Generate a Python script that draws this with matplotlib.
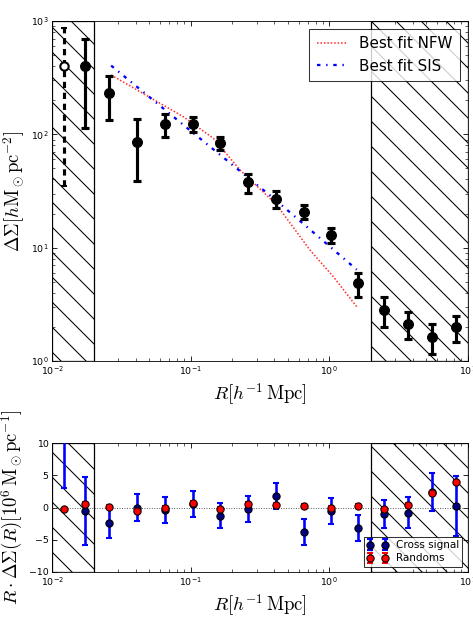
import numpy as np
import matplotlib
matplotlib.use("Agg")
import matplotlib.pyplot as plt

plt.rcParams["mathtext.fontset"] = "cm"
plt.rcParams["font.family"] = "DejaVu Sans"

# ── data ───────────────────────────────────────────────────────────────────────
R_BIN = [0.0172, 0.0258, 0.0409, 0.0650, 0.1030, 0.163, 0.26, 0.415,
         0.655, 1.03, 1.62, 2.49, 3.72, 5.55, 8.3]
DS = [400, 230, 86, 124, 123, 83, 38, 27, 20.7, 12.9, 4.85, 2.82, 2.12, 1.64, 2.0]
DS_HI = [689, 330, 136, 152, 141, 95, 45, 31.8, 23.8, 15.0, 6.0, 3.69, 2.72, 2.12, 2.5]
DS_LO = [114, 134, 39, 94, 105, 72, 30.2, 22.2, 17.8, 11.1, 3.65, 2.0, 1.55, 1.15, 1.48]

R_OPEN = [0.0122]
DS_OPEN = [403]
DS_OPEN_HI = [867]
DS_OPEN_LO = [35]

R_NFW = [0.0266, 0.0883, 0.146, 0.227, 0.418, 0.727, 1.07, 1.58]
DS_NFW = [334, 143, 92, 48.4, 23.8, 9.5, 5.55, 3.01]

R_SIS = [0.0266, 0.1, 0.4, 1.58]
DS_SIS = [404, 107, 27, 6.4]

R_ALL = [0.0122] + R_BIN
CROSS = [12.0, -0.57, -2.35, 0.0, -0.4, 0.52, -1.25, -0.2, 1.8, -3.84, -0.6,
         -3.17, -1.04, -0.78, 2.46, 0.23]
CROSS_ERR = [9.0, 5.27, 2.45, 2.1, 2.0, 2.05, 2.0, 2.0, 2.0, 2.0, 2.02, 2.0,
             2.2, 2.47, 2.96, 4.67]
RANDOMS = [-0.3, 0.5, 0.1, -0.5, -0.13, 0.75, -0.23, 0.5, 0.39, 0.23, -0.13,
           0.3, -0.3, 0.36, 2.3, 4.02]
RANDOMS_ERR = [0.3] * 16

# ── figure ─────────────────────────────────────────────────────────────────────
DPI = 75
fig = plt.figure(figsize=(473 / DPI, 617 / DPI), dpi=DPI)
ax1 = fig.add_axes([0.1106, 0.4149, 0.8782, 0.5511])
ax2 = fig.add_axes([0.1106, 0.0734, 0.8782, 0.2081])

for ax in (ax1, ax2):
    ax.set_xscale("log")
    ax.set_xlim(0.01, 10)
    ax.axvspan(0.01, 0.02, fill=False, hatch="\\", edgecolor="k", lw=1.2, zorder=1)
    ax.axvspan(2, 10, fill=False, hatch="\\", edgecolor="k", lw=1.2, zorder=1)
    ax.tick_params(which="both", direction="in", top=True, right=True, labelsize=9)
    ax.tick_params(which="major", length=5)
    ax.tick_params(which="minor", length=2.5)

# top panel
y = np.array(DS)
yerr = [y - np.array(DS_LO), np.array(DS_HI) - y]
ax1.errorbar(R_BIN, DS, yerr=yerr, fmt="o", color="k", ms=9.5, elinewidth=3,
             capsize=3.5, capthick=3, zorder=4)
eb = ax1.errorbar(R_OPEN, DS_OPEN,
                  yerr=[np.array(DS_OPEN) - np.array(DS_OPEN_LO),
                        np.array(DS_OPEN_HI) - np.array(DS_OPEN)],
                  fmt="o", mfc="w", mec="k", mew=2, color="k", ms=8,
                  elinewidth=3, capsize=3, capthick=3, zorder=4)
eb[2][0].set_linestyle((0, (2, 1.5)))

ax1.plot(R_NFW, DS_NFW, color="#ff3030", lw=1.5, ls=(0, (1, 1.2)),
         label="Best fit NFW", zorder=3)
ax1.plot(R_SIS, DS_SIS, color="blue", lw=2.2, ls=(0, (1.5, 2.5, 0.6, 2.5)),
         label="Best fit SIS", zorder=3)

ax1.set_yscale("log")
ax1.set_ylim(1, 1000)
ax1.set_xlabel(r"$R[h^{-1}\,\mathrm{Mpc}]$", fontsize=18)
ax1.set_ylabel(r"$\Delta\Sigma[h\mathrm{M}_\odot\mathrm{pc}^{-2}]$", fontsize=18)
leg = ax1.legend(loc="upper right", fontsize=14.5, fancybox=False,
                 handlelength=2.0, borderpad=0.5)
leg.get_frame().set_edgecolor("k")

# bottom panel
ax2.axhline(0, color="0.3", ls=":", lw=0.9, zorder=2)
ax2.errorbar(R_ALL, CROSS, yerr=CROSS_ERR, fmt="o", color="blue", mfc="#000080",
             mec="k", ms=7, elinewidth=2.5, capsize=3, capthick=2,
             label="Cross signal", zorder=4)
ax2.errorbar(R_ALL, RANDOMS, yerr=RANDOMS_ERR, fmt="o", color="red", mfc="red",
             mec="k", ms=7, elinewidth=2.5, capsize=3, capthick=2,
             label="Randoms", zorder=5)
ax2.set_ylim(-10, 10)
ax2.set_yticks([-10, -5, 0, 5, 10])
ax2.set_xlabel(r"$R[h^{-1}\,\mathrm{Mpc}]$", fontsize=18)
ax2.set_ylabel(r"$R\cdot\Delta\Sigma(R)[10^6\,\mathrm{M}_\odot\mathrm{pc}^{-1}]$",
               fontsize=18)
leg2 = ax2.legend(loc="lower right", fontsize=10, numpoints=2, fancybox=False,
                  handlelength=2.0, borderpad=0.3, labelspacing=0.3)
leg2.get_frame().set_edgecolor("k")

fig.savefig("out.png", dpi=DPI)
